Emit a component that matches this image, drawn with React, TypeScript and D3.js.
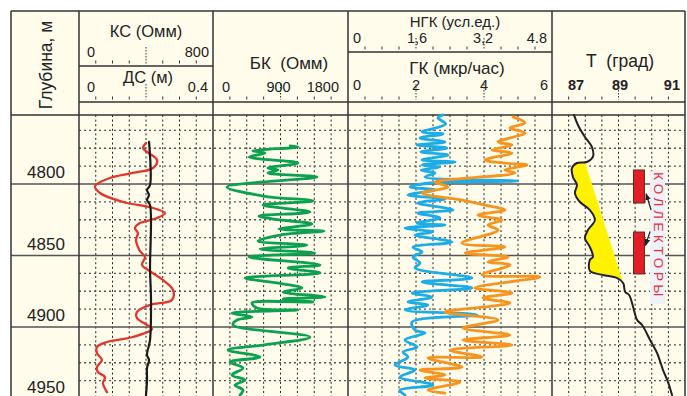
import React, { useEffect, useRef } from 'react';
import * as d3 from 'd3';

const W = 687;
const H = 396;
const FONT = 'Liberation Sans, Arial, sans-serif';

// [depth m, value] pairs
const ksCurve: [number, number][] = [
  [4771.3, 400], [4774.8, 382], [4777.6, 406], [4783.2, 466], [4788.8, 442], [4792.3, 322],
  [4795.8, 185], [4801.4, 96], [4806.3, 125], [4812.6, 263], [4816.8, 442], [4820.3, 513],
  [4823.8, 466], [4827.3, 364], [4830.8, 334], [4834.3, 352], [4839.2, 340], [4844.1, 352],
  [4847.0, 364], [4851.0, 394], [4856.6, 376], [4860.1, 412], [4867.1, 501], [4874.1, 561],
  [4881.1, 555], [4884.6, 424], [4889.5, 346], [4893.7, 346], [4898.6, 406], [4901.4, 436],
  [4907.0, 322], [4910.5, 167], [4914.0, 107], [4918.2, 107], [4923.1, 137], [4928.0, 107],
  [4931.5, 113], [4935.0, 155], [4939.2, 143], [4945.5, 167],
];

const dsCurve: [number, number][] = [
  [4770.6, 0.209], [4800.7, 0.212], [4804.2, 0.203], [4807.7, 0.209], [4811.2, 0.203],
  [4814.7, 0.212], [4860.1, 0.212], [4881.1, 0.215], [4909.1, 0.212], [4919.6, 0.203],
  [4923.1, 0.209], [4928.7, 0.203], [4937.1, 0.203], [4947.6, 0.2],
];

const bkCurve: [number, number][] = [
  [4773.4, 1030], [4774.1, 1133], [4776.9, 533], [4778.3, 693], [4781.1, 480], [4785.3, 1133],
  [4788.8, 733], [4790.2, 867], [4792.3, 733], [4795.1, 1387], [4802.1, 187], [4808.4, 667],
  [4811.9, 1333], [4814.7, 667], [4819.6, 1293], [4822.4, 613], [4824.5, 800], [4828.0, 1320],
  [4831.5, 880], [4832.9, 1480], [4835.7, 893], [4839.9, 600], [4842.7, 1253], [4845.5, 627],
  [4848.3, 1360], [4851.0, 480], [4856.6, 1427], [4858.7, 1000], [4862.2, 1427], [4865.7, 427],
  [4869.2, 853], [4872.7, 1187], [4875.5, 933], [4879.0, 1493], [4880.4, 933], [4882.5, 1333],
  [4883.2, 520], [4886.7, 587], [4888.1, 1133], [4890.2, 253], [4893.0, 520], [4895.1, 320],
  [4898.6, 267], [4907.0, 1293], [4912.6, 667], [4916.1, 200], [4921.0, 627], [4924.5, 227],
  [4928.7, 400], [4933.6, 253], [4937.1, 427], [4940.6, 293], [4944.1, 400], [4947.6, 360],
];

const ngkCurve: [number, number][] = [
  [4751.7, 2.235], [4753.8, 2.118], [4758.0, 2.3], [4763.6, 1.741], [4765.0, 2.235], [4767.8, 1.694],
  [4770.6, 2.282], [4772.7, 1.624], [4774.8, 2.329], [4777.6, 1.718], [4779.7, 2.353],
  [4783.2, 1.741], [4784.6, 2.518], [4786.7, 1.741], [4788.1, 2.165], [4790.2, 1.718],
  [4792.3, 2.047], [4795.1, 1.812], [4797.9, 4.0], [4799.3, 1.929], [4802.1, 1.459],
  [4804.2, 2.047], [4807.7, 1.412], [4810.5, 2.282], [4813.3, 1.647], [4818.2, 2.471],
  [4820.3, 1.647], [4823.8, 2.165], [4827.3, 1.624], [4828.7, 2.282], [4830.8, 1.341],
  [4833.6, 2.0], [4835.7, 1.576], [4840.6, 2.447], [4844.1, 1.529], [4847.6, 1.741],
  [4851.0, 1.529], [4855.2, 1.694], [4858.7, 1.576], [4865.7, 2.918], [4868.5, 1.741],
  [4872.7, 2.918], [4876.2, 1.506], [4879.0, 1.976], [4882.5, 1.412], [4884.6, 1.882],
  [4888.1, 1.341], [4891.6, 3.035], [4896.5, 1.506], [4902.1, 1.576], [4904.2, 1.812],
  [4909.1, 1.341], [4914.0, 1.624], [4917.5, 1.294], [4921.0, 1.412], [4926.6, 1.106],
  [4930.1, 1.576], [4935.0, 1.224], [4940.6, 2.0], [4944.1, 1.224], [4947.6, 1.341],
];

const gkCurve: [number, number][] = [
  [4753.1, 4.853], [4757.3, 5.206], [4760.8, 4.765], [4764.3, 5.206], [4770.6, 4.412],
  [4772.7, 4.824], [4776.2, 4.235], [4778.3, 4.824], [4783.2, 4.029], [4785.3, 4.529],
  [4786.7, 5.265], [4790.2, 4.618], [4792.3, 4.912], [4797.2, 2.853], [4798.6, 2.559],
  [4802.1, 2.941], [4806.3, 2.176], [4811.2, 3.353], [4814.7, 4.029], [4818.2, 4.618],
  [4821.7, 3.824], [4825.2, 4.529], [4828.7, 4.118], [4832.2, 4.412], [4841.3, 3.353],
  [4844.1, 4.618], [4848.3, 3.441], [4851.0, 4.706], [4854.5, 4.118], [4856.6, 4.765],
  [4863.6, 3.941], [4865.0, 5.647], [4872.7, 3.735], [4876.2, 4.824], [4879.7, 3.971],
  [4883.2, 4.765], [4886.0, 4.029], [4889.5, 2.853], [4895.1, 4.412], [4900.7, 3.382],
  [4905.6, 4.765], [4909.1, 3.382], [4912.6, 4.824], [4916.1, 3.0], [4921.0, 3.941],
  [4921.7, 2.353], [4928.0, 3.353], [4930.1, 2.118], [4933.6, 2.853], [4935.7, 2.265],
  [4938.5, 3.294], [4944.1, 2.353], [4946.2, 2.853],
];

const tCurve: [number, number][] = [
  [4751.7, 87.66], [4758.7, 87.78], [4767.1, 87.99], [4774.1, 88.2], [4781.1, 88.23],
  [4784.6, 88.05], [4785.3, 87.75], [4788.8, 87.6], [4795.1, 87.63], [4800.7, 87.75],
  [4806.3, 87.69], [4812.6, 87.84], [4818.2, 88.14], [4825.2, 88.29], [4832.2, 88.08],
  [4837.8, 87.99], [4844.1, 88.14], [4851.0, 88.23], [4853.1, 88.14], [4860.8, 88.14],
  [4863.6, 88.53], [4865.7, 88.95], [4869.2, 89.14], [4875.5, 89.2], [4877.6, 89.32],
  [4886.0, 89.44], [4895.1, 89.56], [4898.6, 89.71], [4909.1, 89.95], [4918.2, 90.16],
  [4930.1, 90.34], [4938.5, 90.49], [4947.6, 90.61],
];

// straight trend line bounding the yellow anomaly
const tTrend: [number, number][] = [[4784.6, 87.99], [4869.2, 89.14]];

// collector intervals [top, bottom] in metres
const collectors: [number, number][] = [[4790.2, 4813.3], [4833.6, 4862.9]];
const collectorTemp = [89.45, 89.78];
// arrows [fromDepth, fromT, toDepth, toT]
const collectorArrows: [number, number, number, number][] = [
  [4818.2, 89.98, 4806.8, 89.83],
  [4833.2, 89.95, 4843.0, 89.81],
];

const depthLabels = [4800, 4850, 4900, 4950];

export default function App() {
  const ref = useRef<SVGSVGElement>(null);

  useEffect(() => {
    const svg = d3.select(ref.current);
    svg.selectAll('*').remove();

    const left = 11, top = 11, right = 685;
    const edges = [79, 213, 348, 552, right];
    const headBottom = 102, dataTop = 115;

    const y = d3.scaleLinear().domain([4800, 4900]).range([184, 327]);
    const ks = d3.scaleLinear().domain([0, 800]).range([edges[0], edges[1]]);
    const ds = d3.scaleLinear().domain([0, 0.4]).range([edges[0], edges[1]]);
    const bk = d3.scaleLinear().domain([0, 1800]).range([edges[1], edges[2]]);
    const ngk = d3.scaleLinear().domain([0, 4.8]).range([edges[2], edges[3]]);
    const gk = d3.scaleLinear().domain([0, 6]).range([edges[2], edges[3]]);
    const t = d3.scaleLinear().domain([87, 91]).range([edges[3], edges[4]]);

    const defs = svg.append('defs');
    defs.append('marker')
      .attr('id', 'arr')
      .attr('viewBox', '0 0 10 10')
      .attr('refX', 9).attr('refY', 5)
      .attr('markerWidth', 6).attr('markerHeight', 6)
      .attr('orient', 'auto')
      .append('path').attr('d', 'M0,1 L10,5 L0,9 Z').attr('fill', '#222');

    // paper
    svg.append('rect').attr('x', left).attr('y', top)
      .attr('width', right - left).attr('height', H - top).attr('fill', '#fffcec');

    // grid
    const divs = [8, 8, 12, 8];
    const grid = svg.append('g');
    divs.forEach((n, i) => {
      const x0 = edges[i], x1 = edges[i + 1];
      for (let k = 1; k < n; k++) {
        const x = x0 + ((x1 - x0) * k) / n;
        grid.append('line').attr('x1', x).attr('x2', x).attr('y1', dataTop).attr('y2', H)
          .attr('stroke', '#222').attr('stroke-width', 1).attr('stroke-dasharray', '2,2.6');
      }
    });
    d3.range(4762.5, 4960, 12.5).forEach(d => {
      if (d % 50 === 0) return;
      grid.append('line').attr('x1', edges[0]).attr('x2', right).attr('y1', y(d)).attr('y2', y(d))
        .attr('stroke', '#555').attr('stroke-width', 1.4).attr('stroke-dasharray', '2,3');
    });
    depthLabels.forEach(d => {
      grid.append('line').attr('x1', left).attr('x2', right).attr('y1', y(d)).attr('y2', y(d))
        .attr('stroke', '#555').attr('stroke-width', 1.7);
      svg.append('text').attr('x', 46).attr('y', y(d) - 6).attr('text-anchor', 'middle')
        .attr('font-family', FONT).attr('font-size', 17).attr('fill', '#222').text(d);
    });

    // header frame
    const frame = svg.append('g').attr('stroke', '#333').attr('fill', 'none');
    frame.append('line').attr('x1', left).attr('x2', right).attr('y1', top).attr('y2', top).attr('stroke-width', 1.5);
    frame.append('line').attr('x1', edges[0]).attr('x2', right).attr('y1', headBottom).attr('y2', headBottom).attr('stroke-width', 1.3);
    frame.append('line').attr('x1', left).attr('x2', right).attr('y1', dataTop).attr('y2', dataTop).attr('stroke-width', 1.5);
    frame.append('line').attr('x1', edges[0]).attr('x2', edges[1]).attr('y1', 66).attr('y2', 66).attr('stroke-width', 1.3);
    frame.append('line').attr('x1', edges[2]).attr('x2', edges[3]).attr('y1', 52).attr('y2', 52).attr('stroke-width', 1.3);

    const text = (x: number, yy: number, s: string, size: number, anchor = 'middle', weight = 'normal') =>
      svg.append('text').attr('x', x).attr('y', yy).attr('text-anchor', anchor)
        .attr('font-family', FONT).attr('font-size', size).attr('font-weight', weight)
        .attr('fill', '#222').style('white-space', 'pre').text(s);

    // scale rows: tick dots, longer dashed tick at labelled middles
    const scaleRow = (x0: number, x1: number, n: number, yTick: number, mids: number[], midTop: number) => {
      for (let k = 1; k < n; k++) {
        const x = x0 + ((x1 - x0) * k) / n;
        const isMid = mids.includes(k);
        svg.append('line').attr('x1', x).attr('x2', x)
          .attr('y1', isMid ? midTop : yTick - 1.5).attr('y2', yTick + 1.5)
          .attr('stroke', '#333').attr('stroke-width', 1)
          .attr('stroke-dasharray', isMid ? '1.5,1.5' : null);
      }
    };
    scaleRow(edges[0], edges[1], 8, 62, [4], 47);
    scaleRow(edges[0], edges[1], 8, 98, [4], 84);
    scaleRow(edges[1], edges[2], 8, 98, [4], 84);
    scaleRow(edges[2], edges[3], 12, 48, [4, 8], 38);
    scaleRow(edges[2], edges[3], 12, 98, [4, 8], 84);
    scaleRow(edges[3], edges[4], 8, 98, [4], 84);

    text(146, 37, 'КС (Омм)', 16.5);
    text(ks(0) + 8, 57, '0', 14.5, 'start');
    text(ks(800) - 4, 57, '800', 14.5, 'end');
    text(148, 83, 'ДС (м)', 16.5);
    text(ds(0) + 8, 92, '0', 14.5, 'start');
    text(ds(0.4) - 5, 92, '0.4', 14.5, 'end');

    text(289, 69, 'БК  (Омм)', 17);
    text(bk(0) + 9, 92, '0', 14.5, 'start');
    text(bk(900) - 2, 92, '900', 14.5);
    text(bk(1800) - 9, 92, '1800', 14.5, 'end');

    text(455, 27, 'НГК (усл.ед.)', 15);
    text(ngk(0) + 5, 43, '0', 14.5, 'start');
    text(ngk(1.6) + 1, 43, '1,6', 14.5);
    text(ngk(3.2) - 1, 43, '3,2', 14.5);
    text(ngk(4.8) - 5, 43, '4.8', 14.5, 'end');
    text(457, 74, 'ГК (мкр/час)', 17);
    text(gk(0) + 5, 90, '0', 14.5, 'start');
    text(gk(2), 90, '2', 14.5);
    text(gk(4), 90, '4', 14.5);
    text(gk(6) - 4, 90, '6', 14.5, 'end');

    text(620, 67, 'Т  (град)', 17.5);
    text(t(87) + 16, 90, '87', 14.5, 'start', 'bold');
    text(t(89) + 1.5, 90, '89', 14.5, 'middle', 'bold');
    text(t(91) - 5, 90, '91', 14.5, 'end', 'bold');

    svg.append('text')
      .attr('transform', 'translate(52,65) rotate(-90)')
      .attr('text-anchor', 'middle').attr('font-family', FONT).attr('font-size', 17.5)
      .attr('fill', '#222').text('Глубина, м');

    // curves
    const plot = (data: [number, number][], xs: d3.ScaleLinear<number, number>, color: string, w: number) => {
      const line = d3.line<[number, number]>()
        .x(d => xs(d[1])).y(d => y(d[0]))
        .curve(d3.curveCatmullRom.alpha(0.5));
      svg.append('path').datum(data).attr('d', line).attr('fill', 'none')
        .attr('stroke', color).attr('stroke-width', w)
        .attr('stroke-linejoin', 'round').attr('stroke-linecap', 'round');
    };

    // yellow fill between temperature and trend line
    const tLine = d3.line<[number, number]>().x(d => t(d[1])).y(d => y(d[0]))
      .curve(d3.curveCatmullRom.alpha(0.5));
    const first = tCurve[0], last = tCurve[tCurve.length - 1];
    defs.append('clipPath').attr('id', 'rightOfT').append('path')
      .attr('d', `${tLine(tCurve)}L${right},${y(last[0])}L${right},${y(first[0])}Z`);
    const [a, b] = tTrend;
    svg.append('path')
      .attr('d', `M${edges[3]},${y(a[0])}L${t(a[1])},${y(a[0])}L${t(b[1])},${y(b[0])}L${edges[3]},${y(b[0])}Z`)
      .attr('fill', '#fff200').attr('clip-path', 'url(#rightOfT)');

    plot(ksCurve, ks, '#e2352b', 2.3);
    plot(dsCurve, ds, '#1a1a1a', 2.2);
    plot(bkCurve, bk, '#0ba14f', 2.8);
    plot(ngkCurve, ngk, '#1cade8', 2.8);
    plot(gkCurve, gk, '#f7941e', 2.8);
    plot(tCurve, t, '#222', 2);

    // collectors
    collectors.forEach(([d0, d1]) => {
      svg.append('rect').attr('x', t(collectorTemp[0])).attr('y', y(d0))
        .attr('width', t(collectorTemp[1]) - t(collectorTemp[0])).attr('height', y(d1) - y(d0))
        .attr('fill', '#e31e26').attr('stroke', '#5a2a2a').attr('stroke-width', 1);
    });
    svg.append('rect').attr('x', 650).attr('y', y(4791)).attr('width', 15).attr('height', y(4884) - y(4791))
      .attr('fill', '#eef1f8');
    svg.append('text')
      .attr('transform', `translate(658,${y(4836.5)}) rotate(90)`)
      .attr('text-anchor', 'middle').attr('dominant-baseline', 'central')
      .attr('font-family', FONT).attr('font-size', 13.5).attr('letter-spacing', 3.6)
      .attr('fill', '#e4303c').text('КОЛЛЕКТОРЫ');
    collectorArrows.forEach(([d0, t0, d1, t1]) => {
      svg.append('line').attr('x1', t(t0)).attr('y1', y(d0)).attr('x2', t(t1)).attr('y2', y(d1))
        .attr('stroke', '#222').attr('stroke-width', 1.2).attr('marker-end', 'url(#arr)');
    });

    // track borders
    const borders = svg.append('g').attr('stroke', '#333');
    borders.append('line').attr('x1', left).attr('x2', left).attr('y1', top).attr('y2', H).attr('stroke-width', 1.5);
    edges.forEach(x => {
      borders.append('line').attr('x1', x).attr('x2', x).attr('y1', top).attr('y2', H).attr('stroke-width', 1.5);
    });
  }, []);

  return (
    <svg ref={ref} width={W} height={H}
      style={{ position: 'absolute', left: 0, top: 0, background: '#fff' }} />
  );
}
